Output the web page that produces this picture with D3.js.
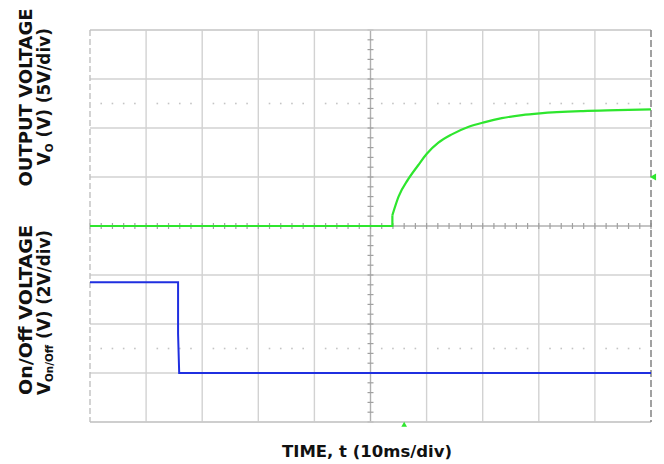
<!DOCTYPE html>
<html>
<head>
<meta charset="utf-8">
<script src="https://cdn.jsdelivr.net/npm/d3@7"></script>
<style>
    body { margin: 0; background: #fff; }
    text { font-family: "DejaVu Sans", sans-serif; font-weight: 700; fill: #111; }
</style>
</head>
<body>
<div id="chart"></div>
<script>
'use strict';

// Oscilloscope graticule: 10 x 8 divisions.
var timeDivs    = d3.range(-5, 6);
var voltDivs    = d3.range(-4, 5);
var dottedDivs  = [-2.5, 2.5];

// Output voltage trace (ms, V) - 5V/div, zero at the centre line.
var outTime = [-50, 3.9, 3.9, 5.0, 6.7, 8.5, 10.0, 12.1, 14.5, 17.4, 20.4, 23.4, 27.0, 30.2, 37.9, 44.0, 50];
var outVolt = [0, 0, 1.1, 3.0, 4.75, 6.2, 7.35, 8.5, 9.35, 10.1, 10.6, 11.0, 11.32, 11.5, 11.73, 11.82, 11.9];

// On/Off voltage trace (ms, V) - 2V/div, zero one division above the bottom.
var onOffTime = [-50, -34.3, -34.3, -34.1, 50];
var onOffVolt = [3.7, 3.7, 1.6, 0, 0];

// Scope markers.
var triggerTime  = 6;
var triggerLevel = 5;

var width  = 664,
    height = 464,
    margin = {top: 30, right: 13, bottom: 42, left: 90},
    plotW  = width - margin.left - margin.right,
    plotH  = height - margin.top - margin.bottom;

var svg = d3.select('#chart').append('svg')
    .attr('width', width)
    .attr('height', height);

var g = svg.append('g')
    .attr('transform', 'translate(' + margin.left + ',' + margin.top + ')');

var gx = d3.scaleLinear().domain([-5, 5]).range([0, plotW]);
var gy = d3.scaleLinear().domain([-4, 4]).range([plotH, 0]);

var x      = d3.scaleLinear().domain([-50, 50]).range([0, plotW]);
var yOut   = d3.scaleLinear().domain([-20, 20]).range([plotH, 0]);
var yOnOff = d3.scaleLinear().domain([-2, 14]).range([plotH, 0]);

// Grid lines.
g.append('g').attr('class', 'grid-x')
    .selectAll('line')
    .data(timeDivs.filter(function (d) { return d !== 0 && Math.abs(d) !== 5; }))
    .enter().append('line')
    .attr('x1', function (d) { return gx(d); })
    .attr('x2', function (d) { return gx(d); })
    .attr('y1', 0)
    .attr('y2', plotH)
    .attr('stroke', '#d2d2d2')
    .attr('stroke-width', 1.4);

g.append('g').attr('class', 'grid-y')
    .selectAll('line')
    .data(voltDivs.filter(function (d) { return d !== 0; }))
    .enter().append('line')
    .attr('x1', 0)
    .attr('x2', plotW)
    .attr('y1', function (d) { return gy(d); })
    .attr('y2', function (d) { return gy(d); })
    .attr('stroke', '#d2d2d2')
    .attr('stroke-width', 1.4);

// Dotted sub-division rows (dots on every fifth of a division, not on grid lines).
var minorX = d3.range(-25, 26).map(function (d) { return d / 5; })
    .filter(function (d) { return Math.abs(d - Math.round(d)) > 1e-6; });

dottedDivs.forEach(function (level) {
    g.append('g').attr('class', 'dots')
        .selectAll('rect')
        .data(minorX)
        .enter().append('rect')
        .attr('x', function (d) { return gx(d) - 0.8; })
        .attr('y', gy(level) - 0.8)
        .attr('width', 1.6)
        .attr('height', 1.6)
        .attr('fill', '#c4c4c4');
});

// Centre axes with minor ticks.
g.append('line')
    .attr('x1', gx(0)).attr('x2', gx(0))
    .attr('y1', 0).attr('y2', plotH)
    .attr('stroke', '#b0b0b0')
    .attr('stroke-width', 1.4);

g.append('line')
    .attr('x1', 0).attr('x2', plotW)
    .attr('y1', gy(0)).attr('y2', gy(0))
    .attr('stroke', '#b0b0b0')
    .attr('stroke-width', 1.4);

g.append('g').selectAll('line')
    .data(d3.range(-20, 21).map(function (d) { return d / 5; }))
    .enter().append('line')
    .attr('x1', gx(0) - 3).attr('x2', gx(0) + 3)
    .attr('y1', function (d) { return gy(d); })
    .attr('y2', function (d) { return gy(d); })
    .attr('stroke', '#a0a0a0')
    .attr('stroke-width', 1.2);

g.append('g').selectAll('line')
    .data(d3.range(-25, 26).map(function (d) { return d / 5; }))
    .enter().append('line')
    .attr('x1', function (d) { return gx(d); })
    .attr('x2', function (d) { return gx(d); })
    .attr('y1', gy(0) - 3).attr('y2', gy(0) + 3)
    .attr('stroke', '#a0a0a0')
    .attr('stroke-width', 1.2);

// Frame.
g.append('line').attr('x1', 0).attr('x2', plotW).attr('y1', 0).attr('y2', 0)
    .attr('stroke', '#cfcfcf').attr('stroke-width', 1.5);
g.append('line').attr('x1', 0).attr('x2', plotW).attr('y1', plotH).attr('y2', plotH)
    .attr('stroke', '#c8c8c8').attr('stroke-width', 1.5);
g.append('line').attr('x1', 0).attr('x2', 0).attr('y1', 0).attr('y2', plotH)
    .attr('stroke', '#c0c0c0').attr('stroke-width', 1.4).attr('stroke-dasharray', '6,3');
g.append('line').attr('x1', plotW).attr('x2', plotW).attr('y1', 0).attr('y2', plotH)
    .attr('stroke', '#8a8a8a').attr('stroke-width', 1.6).attr('stroke-dasharray', '7,3');

// Traces.
var outData   = outTime.map(function (t, i) { return [t, outVolt[i]]; });
var onOffData = onOffTime.map(function (t, i) { return [t, onOffVolt[i]]; });

var lineOnOff = d3.line()
    .x(function (d) { return x(d[0]); })
    .y(function (d) { return yOnOff(d[1]); });

var lineOut = d3.line()
    .x(function (d) { return x(d[0]); })
    .y(function (d) { return yOut(d[1]); });

g.append('path')
    .datum(onOffData)
    .attr('fill', 'none')
    .attr('stroke', '#1f2fe0')
    .attr('stroke-width', 2)
    .attr('d', lineOnOff);

// Flat part plus the step up is straight; the charging curve is smoothed.
g.append('path')
    .datum(outData.slice(0, 3))
    .attr('fill', 'none')
    .attr('stroke', '#2ee62e')
    .attr('stroke-width', 2.2)
    .attr('d', lineOut);

g.append('path')
    .datum(outData.slice(2))
    .attr('fill', 'none')
    .attr('stroke', '#2ee62e')
    .attr('stroke-width', 2.2)
    .attr('stroke-linejoin', 'round')
    .attr('d', lineOut.curve(d3.curveMonotoneX));

// Trigger markers.
g.append('path')
    .attr('d', d3.symbol().type(d3.symbolTriangle).size(14))
    .attr('transform', 'translate(' + x(triggerTime) + ',' + (plotH + 3) + ')')
    .attr('fill', '#2ee62e');

g.append('path')
    .attr('d', d3.symbol().type(d3.symbolTriangle).size(22))
    .attr('transform', 'translate(' + (plotW + 3) + ',' + yOut(triggerLevel) + ') rotate(-90)')
    .attr('fill', '#2ee62e');

// Labels.
svg.append('text')
    .attr('x', 367)
    .attr('y', 457)
    .attr('text-anchor', 'middle')
    .attr('font-size', 15.5)
    .attr('textLength', 170)
    .attr('lengthAdjust', 'spacingAndGlyphs')
    .text('TIME, t (10ms/div)');

function yLabel(cx, cy, len, parts) {
    var t = svg.append('text')
        .attr('transform', 'translate(' + cx + ',' + cy + ') rotate(-90)')
        .attr('text-anchor', 'middle')
        .attr('font-size', 17)
        .attr('textLength', len)
        .attr('lengthAdjust', 'spacingAndGlyphs');
    parts.forEach(function (p) {
        var s = t.append('tspan').text(p.text);
        if (p.sub) {
            s.attr('font-size', 10.5).attr('dy', 3);
        } else if (p.after) {
            s.attr('dy', -3);
        }
    });
}

yLabel(31.5, 97.5, 178, [{text: 'OUTPUT VOLTAGE'}]);
yLabel(49.5, 96.7, 137, [{text: 'V'}, {text: 'O', sub: true}, {text: ' (V) (5V/div)', after: true}]);
yLabel(31.5, 310, 170, [{text: 'On/Off VOLTAGE'}]);
yLabel(49.5, 312.5, 165, [{text: 'V'}, {text: 'On/Off', sub: true}, {text: ' (V) (2V/div)', after: true}]);
</script>
</body>
</html>
